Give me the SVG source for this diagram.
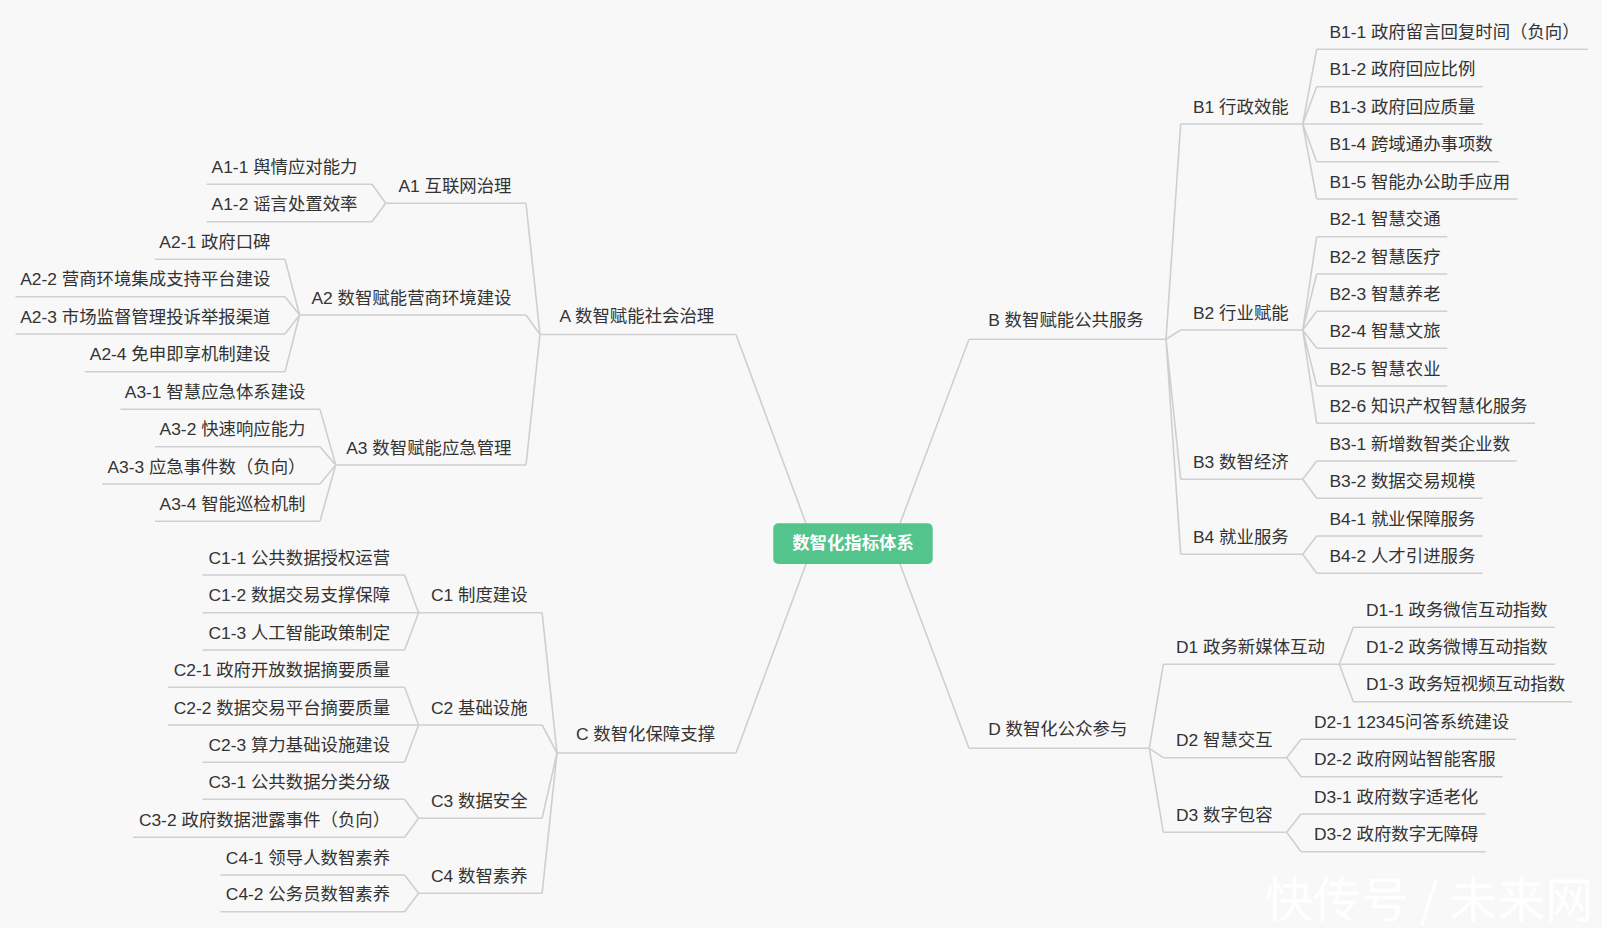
<svg xmlns="http://www.w3.org/2000/svg" width="1602" height="928" viewBox="0 0 1602 928">
<style>
.t{font-family:"Liberation Sans","Noto Sans CJK SC",sans-serif;font-size:17.4px;fill:#333}
.e{text-anchor:end}
.u{stroke:#cfcfcf;stroke-width:1.6;fill:none}
.c{stroke:#cfcfcf;stroke-width:1.6;fill:none;stroke-linejoin:round}
.wm{font-family:"Noto Sans CJK SC",sans-serif;font-size:48px;fill:#ffffff}
</style>
<rect width="1602" height="928" fill="#f8f8f8"/>
<g id="connectors">
<path class="c" d="M806,523.5L736,334.5 M900,523.5L969,339.3 M806,564L736,753 M900,564L969,748.3"/>
<path class="c" d="M540,334.5L526,203.3 M540,334.5L526,315 M540,334.5L526,465"/>
<path class="c" d="M385.7,203.3L372,184.3 M385.7,203.3L372,221.7"/>
<path class="c" d="M299.6,315L285,259.3 M299.6,315L285,296.7 M299.6,315L285,334 M299.6,315L285,371.7"/>
<path class="c" d="M335.7,465L320,409.3 M335.7,465L320,446.7 M335.7,465L320,484 M335.7,465L320,521.3"/>
<path class="c" d="M557,753L542.1,612.7 M557,753L542.1,725 M557,753L542.1,818.3 M557,753L542.1,893.3"/>
<path class="c" d="M418.6,612.7L404.6,575 M418.6,612.7L404.6,612.7 M418.6,612.7L404.6,650"/>
<path class="c" d="M418.6,725L404.6,687.3 M418.6,725L404.6,725 M418.6,725L404.6,762.3"/>
<path class="c" d="M418.6,818.3L404.6,799.3 M418.6,818.3L404.6,837.3"/>
<path class="c" d="M418.6,893.3L404.6,875 M418.6,893.3L404.6,911.7"/>
<path class="c" d="M1166,339.3L1180.7,124 M1166,339.3L1180.7,330 M1166,339.3L1180.7,479.3 M1166,339.3L1180.7,554.3"/>
<path class="c" d="M1302.7,124L1316.7,49.3 M1302.7,124L1316.7,86.7 M1302.7,124L1316.7,124 M1302.7,124L1316.7,161.7 M1302.7,124L1316.7,199"/>
<path class="c" d="M1302.7,330L1316.7,236.7 M1302.7,330L1316.7,274 M1302.7,330L1316.7,311.3 M1302.7,330L1316.7,348.3 M1302.7,330L1316.7,386 M1302.7,330L1316.7,423.3"/>
<path class="c" d="M1302.7,479.3L1316.7,461 M1302.7,479.3L1316.7,498.3"/>
<path class="c" d="M1302.7,554.3L1316.7,536 M1302.7,554.3L1316.7,573.3"/>
<path class="c" d="M1149.3,748.3L1163.3,664.3 M1149.3,748.3L1163.3,757.7 M1149.3,748.3L1163.3,832.3"/>
<path class="c" d="M1339.3,664.3L1353.3,627.3 M1339.3,664.3L1353.3,664.3 M1339.3,664.3L1353.3,701.7"/>
<path class="c" d="M1286.7,757.7L1301,739.3 M1286.7,757.7L1301,776.7"/>
<path class="c" d="M1286.7,832.3L1301,814 M1286.7,832.3L1301,851.7"/>
</g>
<g id="root">
<rect x="773.3" y="523.3" width="159.4" height="40.7" rx="5" fill="#52c48c"/>
<text x="853" y="549" text-anchor="middle" style="font-family:'Liberation Sans','Noto Sans CJK SC',sans-serif;font-size:17.4px;font-weight:bold;fill:#fff">数智化指标体系</text>
</g>
<g id="A"><line class="u" x1="540" y1="334.5" x2="736" y2="334.5"/><text class="t" x="559.6" y="321.5">A 数智赋能社会治理</text></g>
<g id="B"><line class="u" x1="969" y1="339.3" x2="1166" y2="339.3"/><text class="t" x="988.2" y="326.3">B 数智赋能公共服务</text></g>
<g id="C"><line class="u" x1="557" y1="753" x2="736" y2="753"/><text class="t" x="575.9" y="740">C 数智化保障支撑</text></g>
<g id="D"><line class="u" x1="969" y1="748.3" x2="1149.3" y2="748.3"/><text class="t" x="988.2" y="735.3">D 数智化公众参与</text></g>
<g id="A1"><line class="u" x1="385.7" y1="203.3" x2="526" y2="203.3"/><text class="t e" x="511.5" y="191.8">A1 互联网治理</text></g>
<g id="A2"><line class="u" x1="299.6" y1="315" x2="526" y2="315"/><text class="t e" x="511.5" y="303.5">A2 数智赋能营商环境建设</text></g>
<g id="A3"><line class="u" x1="335.7" y1="465" x2="526" y2="465"/><text class="t e" x="511.5" y="453.5">A3 数智赋能应急管理</text></g>
<g id="A1-1"><line class="u" x1="206.6" y1="184.3" x2="372" y2="184.3"/><text class="t e" x="357.5" y="172.8">A1-1 舆情应对能力</text></g>
<g id="A1-2"><line class="u" x1="206.6" y1="221.7" x2="372" y2="221.7"/><text class="t e" x="357.5" y="210.2">A1-2 谣言处置效率</text></g>
<g id="A2-1"><line class="u" x1="155" y1="259.3" x2="285" y2="259.3"/><text class="t e" x="270.5" y="247.8">A2-1 政府口碑</text></g>
<g id="A2-2"><line class="u" x1="15.5" y1="296.7" x2="285" y2="296.7"/><text class="t e" x="270.5" y="285.2">A2-2 营商环境集成支持平台建设</text></g>
<g id="A2-3"><line class="u" x1="15.5" y1="334" x2="285" y2="334"/><text class="t e" x="270.5" y="322.5">A2-3 市场监督管理投诉举报渠道</text></g>
<g id="A2-4"><line class="u" x1="85" y1="371.7" x2="285" y2="371.7"/><text class="t e" x="270.5" y="360.2">A2-4 免申即享机制建设</text></g>
<g id="A3-1"><line class="u" x1="120.5" y1="409.3" x2="320" y2="409.3"/><text class="t e" x="305.5" y="397.8">A3-1 智慧应急体系建设</text></g>
<g id="A3-2"><line class="u" x1="155" y1="446.7" x2="320" y2="446.7"/><text class="t e" x="305.5" y="435.2">A3-2 快速响应能力</text></g>
<g id="A3-3"><line class="u" x1="102" y1="484" x2="320" y2="484"/><text class="t e" x="305.5" y="472.5">A3-3 应急事件数（负向）</text></g>
<g id="A3-4"><line class="u" x1="155" y1="521.3" x2="320" y2="521.3"/><text class="t e" x="305.5" y="509.8">A3-4 智能巡检机制</text></g>
<g id="C1"><line class="u" x1="418.6" y1="612.7" x2="542.1" y2="612.7"/><text class="t e" x="527.6" y="601.2">C1 制度建设</text></g>
<g id="C2"><line class="u" x1="418.6" y1="725" x2="542.1" y2="725"/><text class="t e" x="527.6" y="713.5">C2 基础设施</text></g>
<g id="C3"><line class="u" x1="418.6" y1="818.3" x2="542.1" y2="818.3"/><text class="t e" x="527.6" y="806.8">C3 数据安全</text></g>
<g id="C4"><line class="u" x1="418.6" y1="893.3" x2="542.1" y2="893.3"/><text class="t e" x="527.6" y="881.8">C4 数智素养</text></g>
<g id="C1-1"><line class="u" x1="202.5" y1="575" x2="404.6" y2="575"/><text class="t e" x="390.1" y="563.5">C1-1 公共数据授权运营</text></g>
<g id="C1-2"><line class="u" x1="202.5" y1="612.7" x2="404.6" y2="612.7"/><text class="t e" x="390.1" y="601.2">C1-2 数据交易支撑保障</text></g>
<g id="C1-3"><line class="u" x1="202.5" y1="650" x2="404.6" y2="650"/><text class="t e" x="390.1" y="638.5">C1-3 人工智能政策制定</text></g>
<g id="C2-1"><line class="u" x1="167.9" y1="687.3" x2="404.6" y2="687.3"/><text class="t e" x="390.1" y="675.8">C2-1 政府开放数据摘要质量</text></g>
<g id="C2-2"><line class="u" x1="167.9" y1="725" x2="404.6" y2="725"/><text class="t e" x="390.1" y="713.5">C2-2 数据交易平台摘要质量</text></g>
<g id="C2-3"><line class="u" x1="202.5" y1="762.3" x2="404.6" y2="762.3"/><text class="t e" x="390.1" y="750.8">C2-3 算力基础设施建设</text></g>
<g id="C3-1"><line class="u" x1="202.5" y1="799.3" x2="404.6" y2="799.3"/><text class="t e" x="390.1" y="787.8">C3-1 公共数据分类分级</text></g>
<g id="C3-2"><line class="u" x1="132.9" y1="837.3" x2="404.6" y2="837.3"/><text class="t e" x="390.1" y="825.8">C3-2 政府数据泄露事件（负向）</text></g>
<g id="C4-1"><line class="u" x1="220.4" y1="875" x2="404.6" y2="875"/><text class="t e" x="390.1" y="863.5">C4-1 领导人数智素养</text></g>
<g id="C4-2"><line class="u" x1="220.4" y1="911.7" x2="404.6" y2="911.7"/><text class="t e" x="390.1" y="900.2">C4-2 公务员数智素养</text></g>
<g id="B1"><line class="u" x1="1180.7" y1="124" x2="1302.7" y2="124"/><text class="t" x="1193" y="112.5">B1 行政效能</text></g>
<g id="B2"><line class="u" x1="1180.7" y1="330" x2="1302.7" y2="330"/><text class="t" x="1193" y="318.5">B2 行业赋能</text></g>
<g id="B3"><line class="u" x1="1180.7" y1="479.3" x2="1302.7" y2="479.3"/><text class="t" x="1193" y="467.8">B3 数智经济</text></g>
<g id="B4"><line class="u" x1="1180.7" y1="554.3" x2="1302.7" y2="554.3"/><text class="t" x="1193" y="542.8">B4 就业服务</text></g>
<g id="B1-1"><line class="u" x1="1316.7" y1="49.3" x2="1587.7" y2="49.3"/><text class="t" x="1329.4" y="37.8">B1-1 政府留言回复时间（负向）</text></g>
<g id="B1-2"><line class="u" x1="1316.7" y1="86.7" x2="1482.7" y2="86.7"/><text class="t" x="1329.4" y="75.2">B1-2 政府回应比例</text></g>
<g id="B1-3"><line class="u" x1="1316.7" y1="124" x2="1482.7" y2="124"/><text class="t" x="1329.4" y="112.5">B1-3 政府回应质量</text></g>
<g id="B1-4"><line class="u" x1="1316.7" y1="161.7" x2="1499.3" y2="161.7"/><text class="t" x="1329.4" y="150.2">B1-4 跨域通办事项数</text></g>
<g id="B1-5"><line class="u" x1="1316.7" y1="199" x2="1517.3" y2="199"/><text class="t" x="1329.4" y="187.5">B1-5 智能办公助手应用</text></g>
<g id="B2-1"><line class="u" x1="1316.7" y1="236.7" x2="1447.3" y2="236.7"/><text class="t" x="1329.4" y="225.2">B2-1 智慧交通</text></g>
<g id="B2-2"><line class="u" x1="1316.7" y1="274" x2="1447.3" y2="274"/><text class="t" x="1329.4" y="262.5">B2-2 智慧医疗</text></g>
<g id="B2-3"><line class="u" x1="1316.7" y1="311.3" x2="1447.3" y2="311.3"/><text class="t" x="1329.4" y="299.8">B2-3 智慧养老</text></g>
<g id="B2-4"><line class="u" x1="1316.7" y1="348.3" x2="1447.3" y2="348.3"/><text class="t" x="1329.4" y="336.8">B2-4 智慧文旅</text></g>
<g id="B2-5"><line class="u" x1="1316.7" y1="386" x2="1447.3" y2="386"/><text class="t" x="1329.4" y="374.5">B2-5 智慧农业</text></g>
<g id="B2-6"><line class="u" x1="1316.7" y1="423.3" x2="1535" y2="423.3"/><text class="t" x="1329.4" y="411.8">B2-6 知识产权智慧化服务</text></g>
<g id="B3-1"><line class="u" x1="1316.7" y1="461" x2="1516.7" y2="461"/><text class="t" x="1329.4" y="449.5">B3-1 新增数智类企业数</text></g>
<g id="B3-2"><line class="u" x1="1316.7" y1="498.3" x2="1482.7" y2="498.3"/><text class="t" x="1329.4" y="486.8">B3-2 数据交易规模</text></g>
<g id="B4-1"><line class="u" x1="1316.7" y1="536" x2="1482.7" y2="536"/><text class="t" x="1329.4" y="524.5">B4-1 就业保障服务</text></g>
<g id="B4-2"><line class="u" x1="1316.7" y1="573.3" x2="1482.7" y2="573.3"/><text class="t" x="1329.4" y="561.8">B4-2 人才引进服务</text></g>
<g id="D1"><line class="u" x1="1163.3" y1="664.3" x2="1339.3" y2="664.3"/><text class="t" x="1176" y="652.8">D1 政务新媒体互动</text></g>
<g id="D2"><line class="u" x1="1163.3" y1="757.7" x2="1286.7" y2="757.7"/><text class="t" x="1176" y="746.2">D2 智慧交互</text></g>
<g id="D3"><line class="u" x1="1163.3" y1="832.3" x2="1286.7" y2="832.3"/><text class="t" x="1176" y="820.8">D3 数字包容</text></g>
<g id="D1-1"><line class="u" x1="1353.3" y1="627.3" x2="1555" y2="627.3"/><text class="t" x="1366" y="615.8">D1-1 政务微信互动指数</text></g>
<g id="D1-2"><line class="u" x1="1353.3" y1="664.3" x2="1555" y2="664.3"/><text class="t" x="1366" y="652.8">D1-2 政务微博互动指数</text></g>
<g id="D1-3"><line class="u" x1="1353.3" y1="701.7" x2="1572.3" y2="701.7"/><text class="t" x="1366" y="690.2">D1-3 政务短视频互动指数</text></g>
<g id="D2-1"><line class="u" x1="1301" y1="739.3" x2="1516" y2="739.3"/><text class="t" x="1314" y="727.8">D2-1 12345问答系统建设</text></g>
<g id="D2-2"><line class="u" x1="1301" y1="776.7" x2="1502.7" y2="776.7"/><text class="t" x="1314" y="765.2">D2-2 政府网站智能客服</text></g>
<g id="D3-1"><line class="u" x1="1301" y1="814" x2="1485.7" y2="814"/><text class="t" x="1314" y="802.5">D3-1 政府数字适老化</text></g>
<g id="D3-2"><line class="u" x1="1301" y1="851.7" x2="1485.7" y2="851.7"/><text class="t" x="1314" y="840.2">D3-2 政府数字无障碍</text></g>
<text class="wm" x="1265" y="917">快传号 / 未来网</text>
</svg>
